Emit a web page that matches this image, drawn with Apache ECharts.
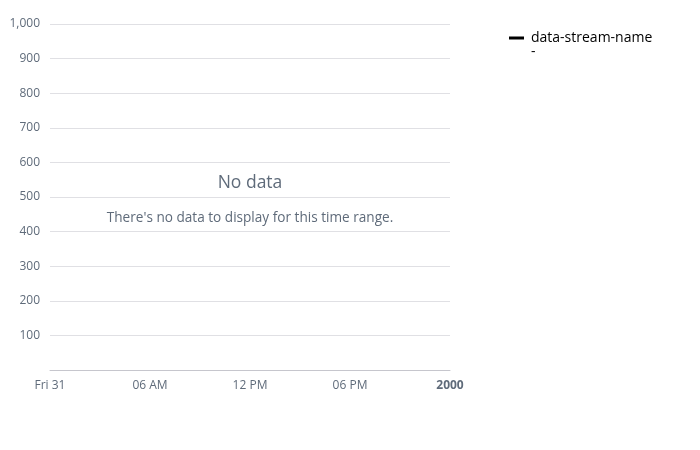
<!DOCTYPE html>
<html><head><meta charset="utf-8">
<script src="https://cdn.jsdelivr.net/npm/echarts@6/dist/echarts.min.js"></script>
<style>html,body{margin:0;padding:0;background:#fff}#c{width:700px;height:450px}</style>
</head><body><div id="c"></div>
<script>
const seriesName = 'data-stream-name';
const seriesValues = [];            // no data points in this time range
const xStart = Date.UTC(1999, 11, 31, 0, 0);
const xEnd = Date.UTC(2000, 0, 1, 0, 0);
const xTickLabels = ['Fri 31', '06 AM', '12 PM', '06 PM', '2000'];
const yMin = 0, yMax = 1000, yStep = 100;
const emptyTitle = 'No data';
const emptyText = "There's no data to display for this time range.";

const FONT = '"Open Sans", "Noto Sans", sans-serif';
const chart = echarts.init(document.getElementById('c'));
const stepMs = 6 * 3600 * 1000;
chart.setOption({
  animation: false,
  textStyle: { fontFamily: FONT },
  grid: { left: 50, right: 250, top: 24, bottom: 80 },
  legend: {
    left: 509, top: 31, padding: 0, icon: 'rect', itemWidth: 15, itemHeight: 3,
    itemGap: 10,
    textStyle: { fontFamily: FONT, fontSize: 14, color: '#000', padding: [0, 0, 0, 2] },
    data: [seriesName]
  },
  xAxis: {
    type: 'value', min: xStart, max: xEnd, interval: stepMs,
    axisLine: { show: true, lineStyle: { color: '#c6c6cd' } },
    axisTick: { show: false },
    splitLine: { show: false },
    axisLabel: {
      margin: 10, fontSize: 12, color: '#5f6b7a', fontFamily: FONT,
      showMinLabel: true, showMaxLabel: true,
      formatter: function (v) {
        const i = Math.round((v - xStart) / stepMs);
        const t = xTickLabels[i] || '';
        return i === xTickLabels.length - 1 ? '{b|' + t + '}' : t;
      },
      rich: { b: { fontWeight: 'bold', fontSize: 12, color: '#5f6b7a', fontFamily: FONT } }
    }
  },
  yAxis: {
    type: 'value', min: yMin, max: yMax, interval: yStep,
    axisLine: { show: false }, axisTick: { show: false },
    splitLine: { lineStyle: { color: '#e0e0e4' } },
    axisLabel: {
      margin: 10, fontSize: 12, color: '#5f6b7a', fontFamily: FONT,
      showMinLabel: false,
      formatter: function (v) { return v === 0 ? '' : v.toLocaleString('en-US'); }
    }
  },
  series: [{
    name: seriesName, type: 'line', data: seriesValues,
    itemStyle: { color: '#000' }, lineStyle: { color: '#000' }, showSymbol: false
  }],
  graphic: [
    { type: 'text', left: 531, top: 45, style: { text: '-', font: '14px ' + FONT, fill: '#000' } },
    { type: 'text', x: 250, y: 183, style: { text: emptyTitle, font: '17.5px ' + FONT, fill: '#5f6b7a', align: 'center', verticalAlign: 'middle' } },
    { type: 'text', x: 250, y: 218, style: { text: emptyText, font: '13.6px ' + FONT, fill: '#5f6b7a', align: 'center', verticalAlign: 'middle' } }
  ]
});
</script></body></html>
